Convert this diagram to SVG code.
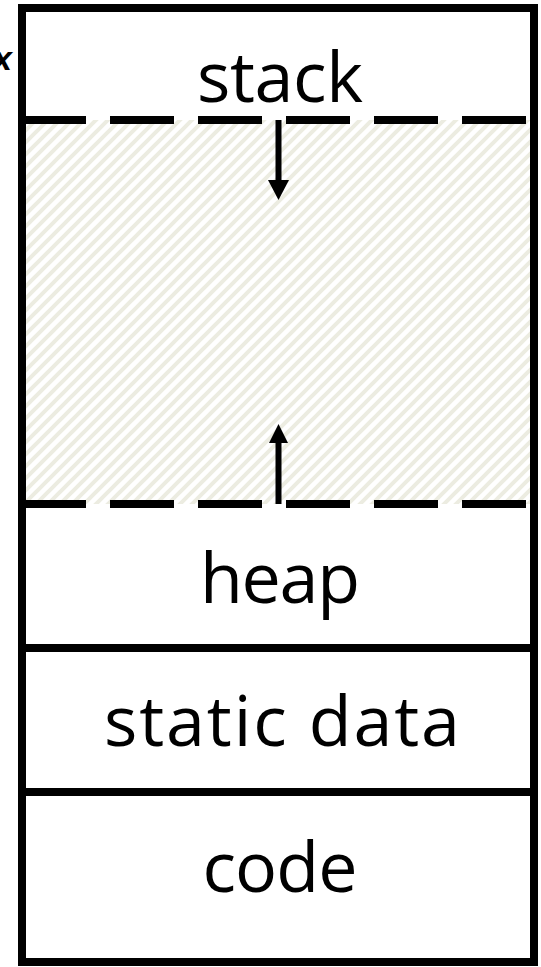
<svg xmlns="http://www.w3.org/2000/svg" width="541" height="967" viewBox="0 0 541 967">
  <style>
    .box { fill: none; stroke: #000; stroke-width: 8; }
    .lbl { font-family: "Open Sans", "Noto Sans", sans-serif; font-size: 70px; fill: #000; text-anchor: middle; }
    .dash { stroke: #000; stroke-width: 8; fill: none; stroke-dasharray: 64 24; }
    .arr { stroke: #000; stroke-width: 6; fill: none; }
  </style>
  <defs>
    <pattern id="hatch" patternUnits="userSpaceOnUse" width="12" height="12">
      <path d="M-6,6 L6,-6 M0,12 L12,0 M6,18 L18,6" stroke="#ececE1" stroke-width="4"/>
    </pattern>
  </defs>
  <rect width="541" height="967" fill="#fff"/>

  <g id="free-space">
    <rect x="26" y="120" width="504" height="384" fill="url(#hatch)"/>
  </g>

  <g id="stack">
    <path class="dash" d="M22,120 H530"/>
    <text class="lbl" x="280" y="102" textLength="166">stack</text>
  </g>

  <g id="heap">
    <path class="dash" d="M22,504 H530"/>
    <text class="lbl" x="280" y="603" textLength="160">heap</text>
  </g>

  <g id="memory">
    <rect class="box" x="22" y="8" width="512" height="640"/>
  </g>

  <g id="static-data">
    <rect class="box" x="22" y="648" width="512" height="144"/>
    <text class="lbl" x="282" y="746" textLength="356">static data</text>
  </g>

  <g id="code">
    <rect class="box" x="22" y="792" width="512" height="170"/>
    <text class="lbl" x="280" y="892" textLength="155">code</text>
  </g>

  <g id="address-label">
    <text x="12" y="70" font-family="Liberation Sans, Arial, sans-serif" font-size="34" font-weight="bold" font-style="italic" text-anchor="end">x</text>
  </g>

  <g id="connectors">
    <path class="arr" d="M278.5,120 V180"/>
    <path d="M268,180 H289 L278.5,200 Z" fill="#000"/>
    <path class="arr" d="M278.5,504 V443"/>
    <path d="M269,443 H288 L278.5,424 Z" fill="#000"/>
  </g>
</svg>
